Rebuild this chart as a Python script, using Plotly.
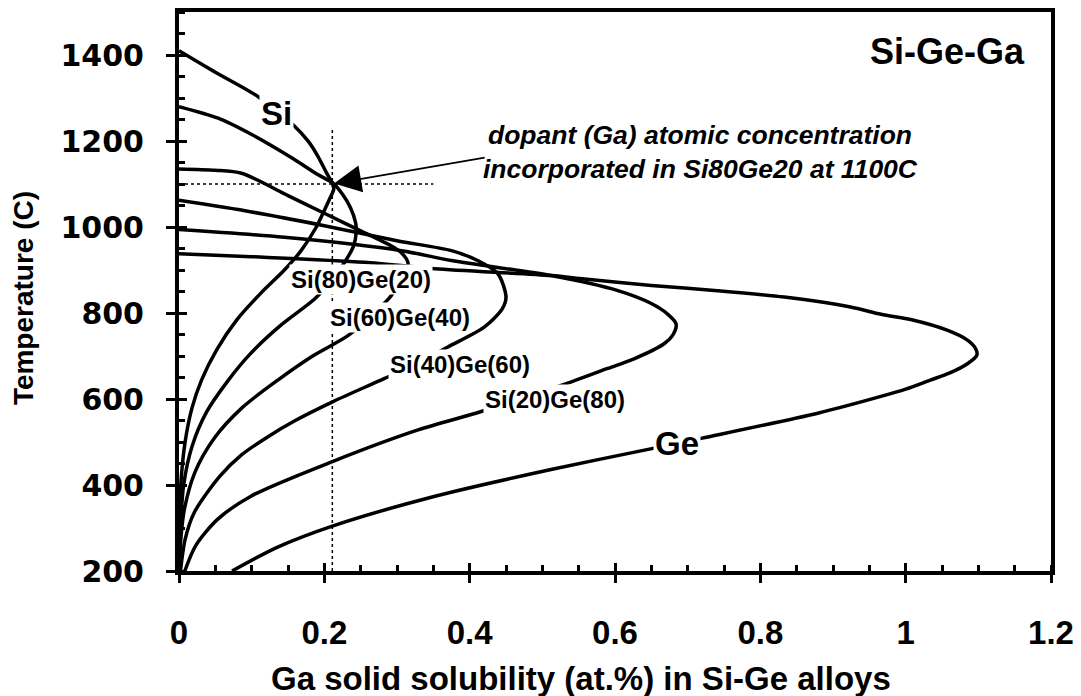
import plotly.graph_objects as go

# Ga solid solubility (at.%) vs temperature (C) for Si-Ge alloys.
# Each curve: upper branch from x=0 at the solidus, out to the retrograde
# maximum, then back down to the low-temperature end.
si_x = [0.0, 0.05, 0.109, 0.157, 0.178, 0.191, 0.203, 0.211, 0.213, 0.208, 0.199, 0.189,
        0.168, 0.145, 0.112, 0.079, 0.052, 0.031, 0.018, 0.0084, 0.0024, 0.0005, 0.0]
si_t = [1410, 1360, 1303, 1238, 1199, 1165, 1126, 1102, 1088, 1068, 1035, 1000,
        945, 900, 845, 783, 715, 644, 580, 500, 400, 300, 200]

si80_x = [0.0, 0.054, 0.10, 0.155, 0.191, 0.212, 0.225, 0.236, 0.243, 0.244, 0.240, 0.228,
          0.210, 0.187, 0.139, 0.098, 0.068, 0.038, 0.018, 0.0064, 0.002, 0.0]
si80_t = [1280, 1253, 1215, 1161, 1122, 1102, 1076, 1045, 1010, 990, 955, 918,
          875, 833, 770, 705, 644, 570, 490, 400, 300, 200]

si60_x = [0.0, 0.05, 0.086, 0.15, 0.20, 0.25, 0.29, 0.306, 0.315, 0.313, 0.300, 0.289,
          0.265, 0.233, 0.184, 0.136, 0.087, 0.049, 0.022, 0.007, 0.0018, 0.0]
si60_t = [1135, 1132, 1125, 1073, 1032, 991, 958, 940, 918, 895, 860, 834,
          795, 748, 700, 644, 580, 510, 430, 340, 260, 200]

si40_x = [0.0, 0.10, 0.20, 0.30, 0.375, 0.411, 0.439, 0.450, 0.445, 0.420, 0.370, 0.330,
          0.283, 0.212, 0.160, 0.123, 0.086, 0.056, 0.021, 0.0085, 0.002]
si40_t = [1062, 1035, 1003, 968, 945, 922, 891, 837, 810, 767, 721, 685,
          648, 594, 550, 513, 470, 420, 336, 274, 200]

si20_x = [0.0, 0.145, 0.306, 0.375, 0.512, 0.604, 0.650, 0.672, 0.684, 0.680, 0.668, 0.627,
          0.590, 0.540, 0.416, 0.329, 0.212, 0.099, 0.053, 0.023, 0.008]
si20_t = [994, 976, 945, 922, 887, 852, 822, 798, 775, 750, 729, 694,
          671, 640, 571, 528, 455, 374, 320, 259, 200]

ge_x = [0.0, 0.10, 0.255, 0.352, 0.512, 0.558, 0.650, 0.741, 0.833, 0.924, 0.966, 1.011,
        1.057, 1.085, 1.096, 1.098, 1.085, 1.060, 1.034, 1.000, 0.966, 0.879, 0.720,
        0.649, 0.512, 0.355, 0.212, 0.135, 0.073]
ge_t = [938, 931, 918, 903, 887, 879, 864, 852, 837, 814, 797, 783,
        760, 737, 718, 702, 682, 660, 644, 623, 606, 567, 509,
        484, 436, 375, 305, 255, 200]

# Curve labels: text, x, T
label_text = ["Si", "Si(80)Ge(20)", "Si(60)Ge(40)", "Si(40)Ge(60)", "Si(20)Ge(80)", "Ge"]
label_x = [0.134, 0.251, 0.304, 0.387, 0.518, 0.686]
label_t = [1264, 878, 789, 681, 600, 497]
label_size = [33, 24, 24, 24, 24, 33]

# Reading of Si80Ge20 at 1100 C
read_x = 0.211
read_t = 1100
guide_v_x = [read_x, read_x]
guide_v_t = [200, 1228]
guide_h_x = [0.0, 0.35]
guide_h_t = [read_t, read_t]

x_range = [0, 1.2]
t_range = [200, 1500]

ARIAL = "Liberation Sans, Arial, sans-serif"

fig = go.Figure()
for name, xs, ts in [("Si", si_x, si_t), ("Si(80)Ge(20)", si80_x, si80_t),
                     ("Si(60)Ge(40)", si60_x, si60_t), ("Si(40)Ge(60)", si40_x, si40_t),
                     ("Si(20)Ge(80)", si20_x, si20_t), ("Ge", ge_x, ge_t)]:
    fig.add_trace(go.Scatter(
        x=xs, y=ts, mode="lines", name=name, showlegend=False, hoverinfo="skip",
        line=dict(color="black", width=3.5, shape="spline", smoothing=0.8),
    ))

for gx, gt in [(guide_v_x, guide_v_t), (guide_h_x, guide_h_t)]:
    fig.add_trace(go.Scatter(
        x=gx, y=gt, mode="lines", showlegend=False, hoverinfo="skip",
        line=dict(color="black", width=1.5, dash="dot"),
    ))

# companion axes carry the inner half of the major ticks
fig.add_trace(go.Scatter(x=[None], y=[None], xaxis="x2", yaxis="y2",
                         showlegend=False, hoverinfo="skip"))

for txt, lx, lt, fs in zip(label_text, label_x, label_t, label_size):
    fig.add_annotation(
        x=lx, y=lt, text=txt, showarrow=False, bgcolor="white", borderpad=1,
        font=dict(family=ARIAL, size=fs, color="black", weight="bold"),
    )

fig.add_annotation(
    x=1.167, y=1408, xanchor="right", yanchor="middle", text="Si-Ge-Ga",
    showarrow=False, font=dict(family=ARIAL, size=36, color="black", weight="bold"),
)

fig.add_annotation(
    x=0.718, y=1175, align="center", showarrow=False,
    text="<i>dopant (Ga) atomic concentration<br>incorporated in Si80Ge20 at 1100C</i>",
    font=dict(family=ARIAL, size=26.5, color="black", weight="bold"),
)

fig.add_annotation(
    x=0.2133, y=1101, ax=0.4227, ay=1162, axref="x", ayref="y", text="",
    showarrow=True, arrowhead=2, arrowsize=3.4, arrowwidth=1.6, arrowcolor="black",
    standoff=0,
)

# axis titles
fig.add_annotation(
    xref="paper", yref="paper", x=0.461, y=-0.193, xanchor="center", yanchor="middle",
    text="Ga solid solubility (at.%) in Si-Ge alloys", showarrow=False,
    font=dict(family=ARIAL, size=33, color="black", weight="bold"),
)
fig.add_annotation(
    xref="paper", yref="paper", x=-0.179, y=0.488, xanchor="center", yanchor="middle",
    textangle=-90, text="Temperature (C)", showarrow=False,
    font=dict(family=ARIAL, size=28, color="black", weight="bold"),
)

fig.update_layout(
    width=1081, height=696,
    margin=dict(l=179, r=30, t=12, b=125, autoexpand=False),
    paper_bgcolor="white", plot_bgcolor="white",
    xaxis=dict(
        range=x_range, tick0=0, dtick=0.2, showgrid=False, zeroline=False,
        showline=True, linewidth=4, linecolor="black", mirror=True, automargin=False,
        ticks="outside", ticklen=8, tickwidth=3, tickcolor="black",
        minor=dict(dtick=0.05, ticks="inside", ticklen=6, tickwidth=2.5, tickcolor="black"),
        tickfont=dict(family=ARIAL, size=33, color="black", weight="bold"),
        ticklabelstandoff=21,
    ),
    yaxis=dict(
        range=t_range, tick0=200, dtick=200, showgrid=False, zeroline=False,
        showline=True, linewidth=4, linecolor="black", mirror=True, automargin=False,
        ticks="outside", ticklen=9, tickwidth=3, tickcolor="black",
        minor=dict(dtick=50, ticks="inside", ticklen=6, tickwidth=2.5, tickcolor="black"),
        tickfont=dict(family="DejaVu Sans, sans-serif", size=30, color="black", weight="bold"),
        ticklabelstandoff=16,
    ),
    xaxis2=dict(
        range=x_range, tick0=0, dtick=0.2, overlaying="x", anchor="y", side="bottom",
        showgrid=False, zeroline=False, showline=False, showticklabels=False,
        ticks="inside", ticklen=8, tickwidth=3, tickcolor="black", automargin=False,
    ),
    yaxis2=dict(
        range=t_range, tick0=200, dtick=200, overlaying="y", anchor="x", side="left",
        showgrid=False, zeroline=False, showline=False, showticklabels=False,
        ticks="inside", ticklen=8, tickwidth=3, tickcolor="black", automargin=False,
    ),
)

fig.write_html("out.html")
